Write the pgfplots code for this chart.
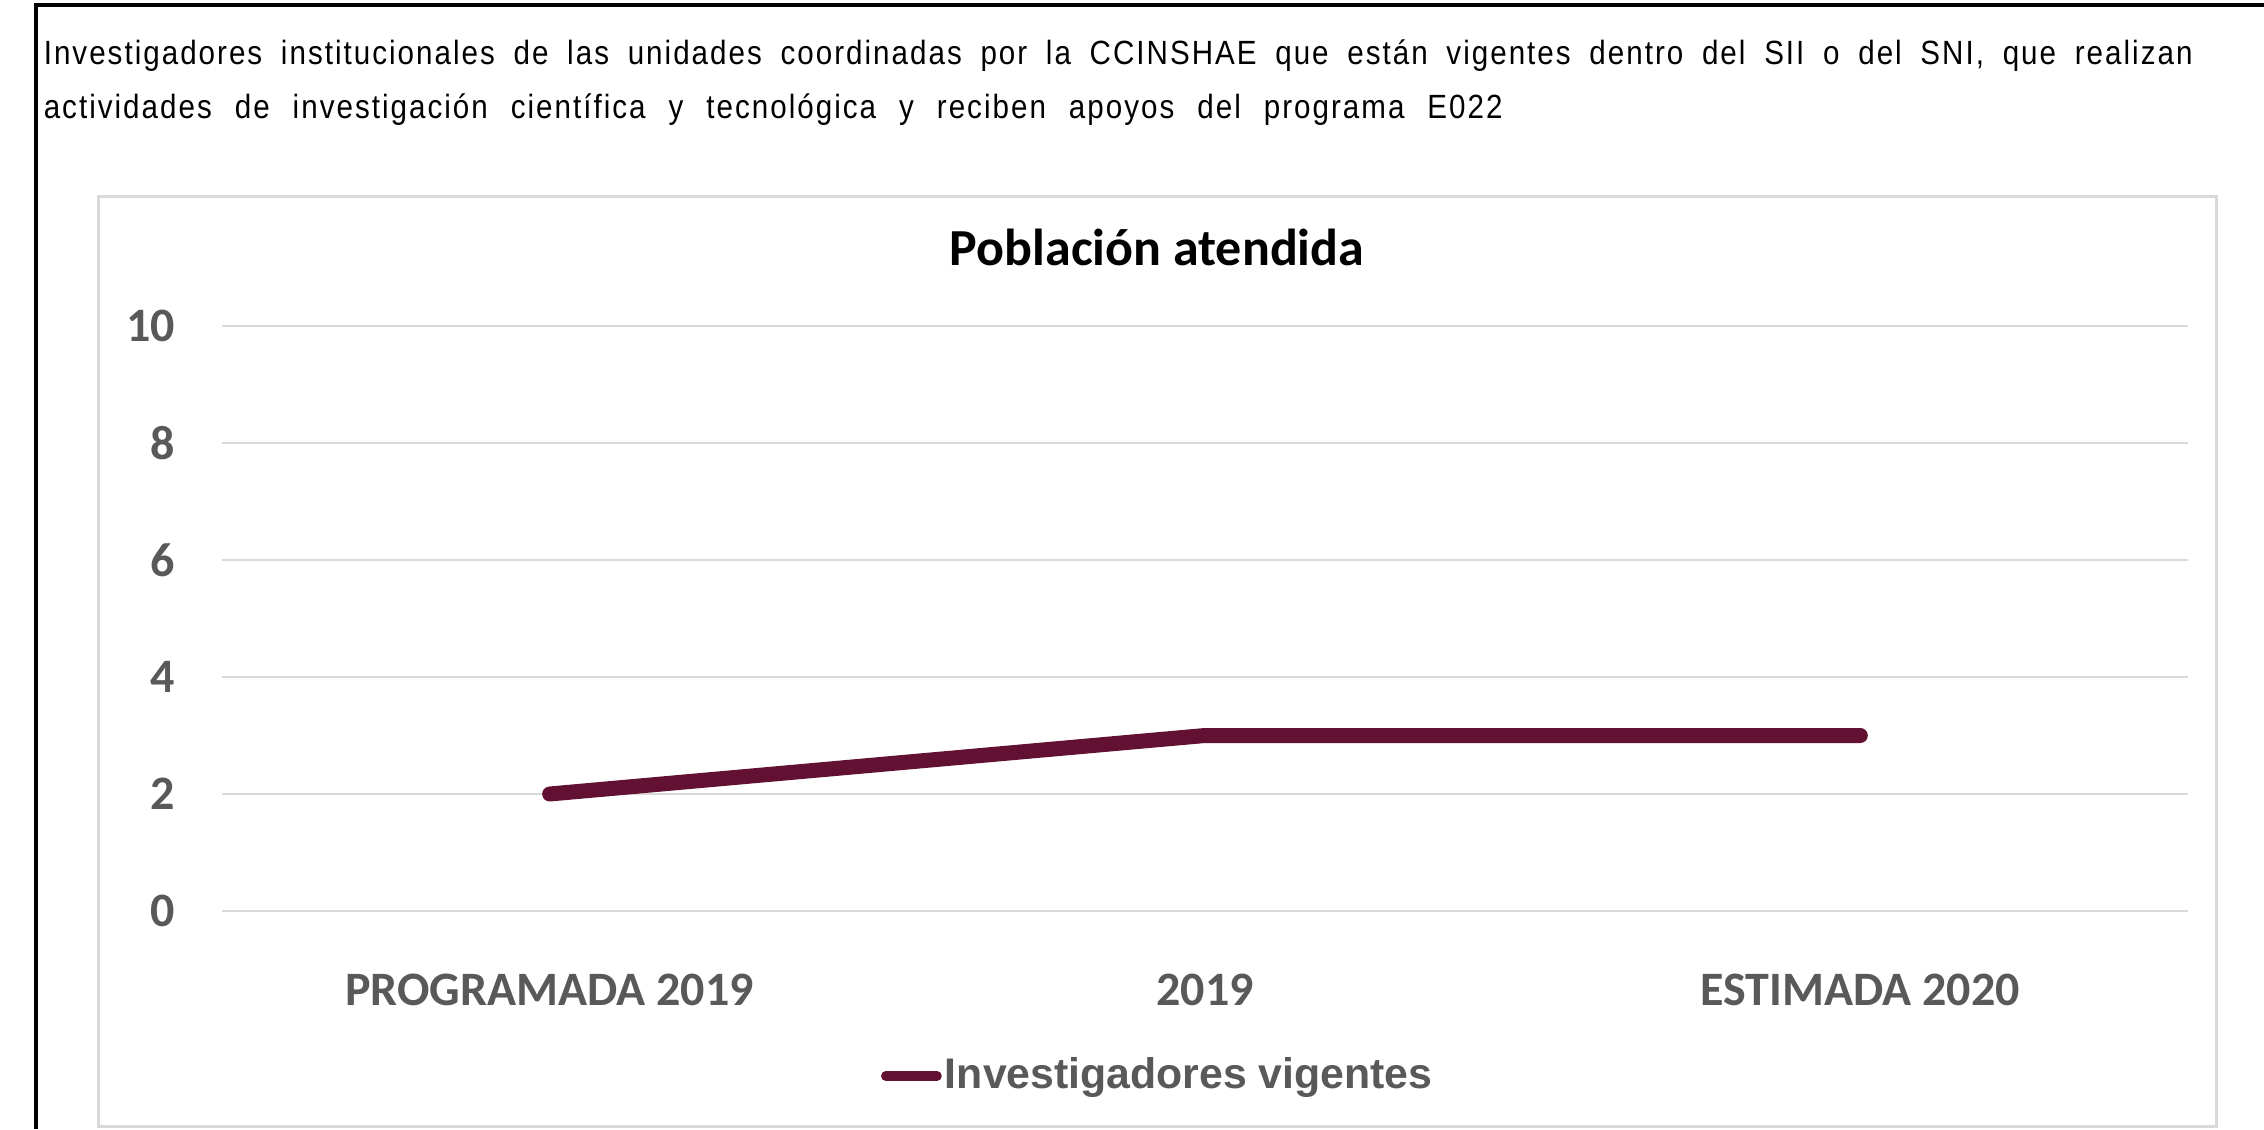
\documentclass[border=0pt]{standalone}
\usepackage{pgfplots}
\pgfplotsset{compat=1.18}
\usepackage{fontspec}
\setmainfont{Liberation Sans}
\newfontfamily\calibri{Carlito}
\newfontfamily\topfont[FakeStretch=0.88, LetterSpace=6]{Liberation Sans}
\definecolor{maroonline}{RGB}{98,17,50}
\definecolor{tickgray}{RGB}{89,89,89}
\definecolor{gridgray}{RGB}{217,217,217}

\begin{document}
\begin{tikzpicture}
\path[use as bounding box] (0,0) rectangle (566pt,282.25pt);
\fill[white] (0,0) rectangle (566pt,282.25pt);
\draw[line width=1pt] (9pt,0) -- (9pt,281pt) -- (566pt,281pt);
\node[anchor=base west, inner sep=0pt, font=\topfont\fontsize{8.4}{10}\selectfont] at (10.75pt,266.25pt)
  {\makebox[537.25pt][s]{Investigadores institucionales de las unidades coordinadas por la CCINSHAE que están vigentes dentro del SII o del SNI, que realizan}};
\node[anchor=base west, inner sep=0pt, font=\topfont\fontsize{8.4}{10}\selectfont] at (10.75pt,252.75pt)
  {\makebox[364.75pt][s]{actividades de investigación científica y tecnológica y reciben apoyos del programa E022}};
\draw[gridgray, line width=0.75pt] (24.5pt,0.75pt) rectangle (554pt,233.25pt);
\node[anchor=base, inner sep=0pt, font=\calibri\bfseries\fontsize{13}{15}\selectfont] at (289.25pt,216pt) {Población atendida};
\begin{axis}[
  at={(55.5pt,54.5pt)}, anchor=south west, scale only axis,
  width=491.5pt, height=146.25pt,
  xmin=-0.5, xmax=2.5, ymin=0, ymax=10,
  ytick={0,2,4,6,8,10}, xtick={0,1,2},
  xticklabels={PROGRAMADA 2019, 2019, ESTIMADA 2020},
  axis line style={draw=none}, major tick length=0pt,
  ymajorgrids, grid style={gridgray, line width=0.5pt},
  /pgf/number format/assume math mode=true,
  ticklabel style={font=\calibri\bfseries\fontsize{12}{14}\selectfont, text=tickgray},
  yticklabel style={anchor=east, inner sep=0pt, xshift=-11.5pt},
  xticklabel style={anchor=base, inner sep=0pt, yshift=-23.5pt},
  clip=false,
  legend style={draw=none, fill=none, at={(0.4763,-0.282)}, anchor=center,
    font=\bfseries\fontsize{10.7}{12}\selectfont, text=tickgray,
    nodes={inner sep=0.8pt}},
  legend image code/.code={\draw[line width=2.4pt, line cap=round] (1.2pt,0pt) -- (14pt,0pt);},
]
\addplot[maroonline, line width=3.75pt, line cap=round, line join=round] coordinates {(0,2) (1,3) (2,3)};
\addlegendentry{Investigadores vigentes}
\end{axis}
\end{tikzpicture}
\end{document}
